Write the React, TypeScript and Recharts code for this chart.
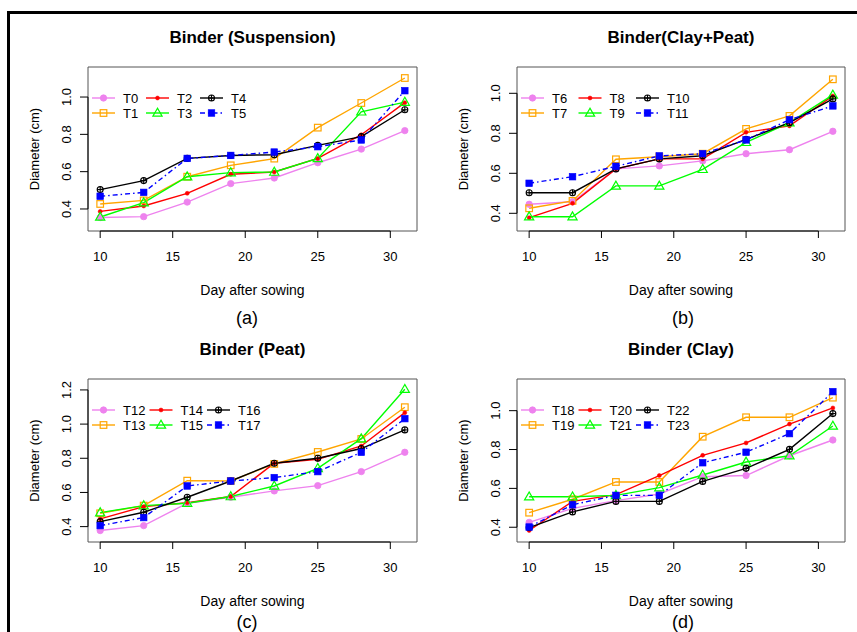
import React from 'react';
import { LineChart, Line, XAxis, YAxis, ReferenceArea } from 'recharts';

const days = [10, 13, 16, 19, 22, 25, 28, 31];
const xTicks = [10, 15, 20, 25, 30];
const xDomain: [number, number] = [9.16, 31.84];

// Panel (a) Binder (Suspension)
const T0 = [0.354, 0.359, 0.437, 0.536, 0.566, 0.648, 0.721, 0.82];
const T1 = [0.427, 0.446, 0.573, 0.634, 0.67, 0.836, 0.968, 1.102];
const T2 = [0.387, 0.416, 0.484, 0.586, 0.598, 0.671, 0.798, 0.97];
const T3 = [0.357, 0.434, 0.573, 0.595, 0.598, 0.671, 0.921, 0.973];
const T4 = [0.504, 0.552, 0.671, 0.687, 0.691, 0.741, 0.788, 0.932];
const T5 = [0.468, 0.489, 0.671, 0.687, 0.705, 0.734, 0.77, 1.034];

// Panel (b) Binder(Clay+Peat)
const T6 = [0.445, 0.458, 0.622, 0.637, 0.662, 0.698, 0.718, 0.81];
const T7 = [0.425, 0.462, 0.67, 0.683, 0.698, 0.822, 0.887, 1.07];
const T8 = [0.378, 0.45, 0.622, 0.672, 0.672, 0.805, 0.837, 0.987];
const T9 = [0.383, 0.383, 0.537, 0.537, 0.62, 0.755, 0.853, 0.992];
const T10 = [0.503, 0.503, 0.622, 0.672, 0.688, 0.77, 0.853, 0.972];
const T11 = [0.55, 0.583, 0.635, 0.687, 0.698, 0.767, 0.868, 0.937];

// Panel (c) Binder (Peat)
const T12 = [0.377, 0.406, 0.537, 0.572, 0.609, 0.64, 0.722, 0.835];
const T13 = [0.478, 0.523, 0.669, 0.667, 0.767, 0.837, 0.913, 1.099];
const T14 = [0.445, 0.517, 0.54, 0.576, 0.771, 0.794, 0.872, 1.067];
const T15 = [0.482, 0.523, 0.537, 0.576, 0.638, 0.741, 0.915, 1.204];
const T16 = [0.429, 0.484, 0.572, 0.667, 0.771, 0.8, 0.857, 0.966];
const T17 = [0.406, 0.453, 0.638, 0.667, 0.687, 0.722, 0.835, 1.032];

// Panel (d) Binder (Clay)
const T18 = [0.425, 0.497, 0.537, 0.571, 0.66, 0.666, 0.768, 0.849];
const T19 = [0.475, 0.544, 0.633, 0.633, 0.866, 0.966, 0.966, 1.067];
const T20 = [0.383, 0.533, 0.568, 0.666, 0.77, 0.834, 0.931, 1.014];
const T21 = [0.557, 0.557, 0.564, 0.604, 0.669, 0.736, 0.768, 0.921];
const T22 = [0.398, 0.479, 0.533, 0.533, 0.636, 0.703, 0.801, 0.985];
const T23 = [0.401, 0.516, 0.564, 0.564, 0.732, 0.786, 0.882, 1.098];

type Shape = 'circle' | 'square' | 'dot' | 'triangle' | 'circleplus' | 'fsquare';
const styles: { color: string; shape: Shape; dash?: string }[] = [
  { color: '#EE82EE', shape: 'circle' },
  { color: '#FFA500', shape: 'square' },
  { color: '#FF0000', shape: 'dot' },
  { color: '#00FF00', shape: 'triangle' },
  { color: '#000000', shape: 'circleplus' },
  { color: '#0000FF', shape: 'fsquare', dash: '5 3 1.5 3' },
];

const FONT = '"Liberation Sans", Arial, Helvetica, sans-serif';

function Marker({ shape, color, cx, cy }: { shape: Shape; color: string; cx: number; cy: number }) {
  switch (shape) {
    case 'circle':
      return <circle cx={cx} cy={cy} r={3.2} fill={color} stroke={color} strokeWidth={0.8} />;
    case 'square':
      return <rect x={cx - 3.3} y={cy - 3.3} width={6.6} height={6.6} fill="none" stroke={color} strokeWidth={1.2} />;
    case 'dot':
      return <circle cx={cx} cy={cy} r={2} fill={color} stroke={color} strokeWidth={0.5} />;
    case 'triangle':
      return (
        <polygon
          points={`${cx},${cy - 4.8} ${cx - 4.6},${cy + 3.2} ${cx + 4.6},${cy + 3.2}`}
          fill="none"
          stroke={color}
          strokeWidth={1.2}
        />
      );
    case 'circleplus':
      return (
        <g>
          <circle cx={cx} cy={cy} r={3} fill="none" stroke={color} strokeWidth={1.1} />
          <line x1={cx - 3} x2={cx + 3} y1={cy} y2={cy} stroke={color} strokeWidth={1.1} />
          <line x1={cx} x2={cx} y1={cy - 3} y2={cy + 3} stroke={color} strokeWidth={1.1} />
        </g>
      );
    case 'fsquare':
    default:
      return <rect x={cx - 3.3} y={cy - 3.3} width={6.6} height={6.6} fill={color} stroke={color} strokeWidth={0.6} />;
  }
}

type PanelDef = {
  title: string;
  label: string;
  names: string[];
  series: number[][];
  boxL: number;
  boxR: number;
  boxT: number;
  boxB: number;
  yDomain: [number, number];
  yTicks: number[];
  legendStep: number;
  dayY: number;
  labelY: number;
  labelX: number;
};

const panels: PanelDef[] = [
  {
    title: 'Binder (Suspension)', label: '(a)', names: ['T0', 'T1', 'T2', 'T3', 'T4', 'T5'],
    series: [T0, T1, T2, T3, T4, T5], boxL: 88, boxR: 417, boxT: 67, boxB: 231,
    yDomain: [0.282, 1.161], yTicks: [0.4, 0.6, 0.8, 1.0], legendStep: 54, dayY: 290, labelY: 318, labelX: 247,
  },
  {
    title: 'Binder(Clay+Peat)', label: '(b)', names: ['T6', 'T7', 'T8', 'T9', 'T10', 'T11'],
    series: [T6, T7, T8, T9, T10, T11], boxL: 517, boxR: 845, boxT: 67, boxB: 231,
    yDomain: [0.3115, 1.1315], yTicks: [0.4, 0.6, 0.8, 1.0], legendStep: 57.5, dayY: 290, labelY: 318, labelX: 683,
  },
  {
    title: 'Binder (Peat)', label: '(c)', names: ['T12', 'T13', 'T14', 'T15', 'T16', 'T17'],
    series: [T12, T13, T14, T15, T16, T17], boxL: 88, boxR: 417, boxT: 379, boxB: 542,
    yDomain: [0.31, 1.264], yTicks: [0.4, 0.6, 0.8, 1.0, 1.2], legendStep: 57.5, dayY: 601, labelY: 622, labelX: 247,
  },
  {
    title: 'Binder (Clay)', label: '(d)', names: ['T18', 'T19', 'T20', 'T21', 'T22', 'T23'],
    series: [T18, T19, T20, T21, T22, T23], boxL: 517, boxR: 845, boxT: 379, boxB: 542,
    yDomain: [0.324, 1.163], yTicks: [0.4, 0.6, 0.8, 1.0], legendStep: 57.5, dayY: 601, labelY: 622, labelX: 683,
  },
];

const Y_AXIS_W = 88;
const RIGHT_M = 13;
const X_AXIS_H = 40;
const BOTTOM_M = 30;

function Panel({ p }: { p: PanelDef }) {
  const left = p.boxL - Y_AXIS_W;
  const top = p.boxT - 67;
  const width = p.boxR - left + RIGHT_M;
  const plotH = p.boxB - p.boxT;
  const height = p.boxB - top + X_AXIS_H + BOTTOM_M;
  const localBottom = p.boxB - top;
  const localLeft = Y_AXIS_W;
  const pxX = (p.boxR - p.boxL) / (xDomain[1] - xDomain[0]);
  const pxY = plotH / (p.yDomain[1] - p.yDomain[0]);
  const data = days.map((d, i) => {
    const row: Record<string, number> = { day: d };
    p.names.forEach((n, k) => {
      row[n] = p.series[k][i];
    });
    return row;
  });
  const lastX = xTicks[xTicks.length - 1];
  const lastY = p.yTicks[p.yTicks.length - 1];

  const xTick = (props: any) => {
    const { x, payload } = props;
    const isLast = payload.value === lastX;
    return (
      <g>
        <line x1={x} x2={x} y1={localBottom} y2={localBottom + 7} stroke="#000" strokeWidth={1} />
        {!isLast && (
          <line x1={x} x2={x + 5 * pxX} y1={localBottom} y2={localBottom} stroke="#000" strokeWidth={1} />
        )}
        <text x={x} y={localBottom + 25} textAnchor="middle" dominantBaseline="central" fontSize={13} fontFamily={FONT} fill="#000">
          {payload.value}
        </text>
      </g>
    );
  };
  const yTick = (props: any) => {
    const { y, payload } = props;
    const isLast = Math.abs(payload.value - lastY) < 1e-9;
    const tx = localLeft - 21;
    return (
      <g>
        <line x1={localLeft - 8} x2={localLeft} y1={y} y2={y} stroke="#000" strokeWidth={1} />
        {!isLast && (
          <line x1={localLeft} x2={localLeft} y1={y} y2={y - 0.2 * pxY} stroke="#000" strokeWidth={1} />
        )}
        <text
          x={tx}
          y={y}
          textAnchor="middle"
          dominantBaseline="central"
          fontSize={13}
          fontFamily={FONT}
          fill="#000"
          transform={`rotate(-90, ${tx}, ${y})`}
        >
          {Number(payload.value).toFixed(1)}
        </text>
      </g>
    );
  };

  return (
    <div style={{ position: 'absolute', left, top, width, height }}>
      <LineChart
        width={width}
        height={height}
        data={data}
        margin={{ top: p.boxT - top, right: RIGHT_M, bottom: BOTTOM_M, left: 0 }}
      >
        <XAxis
          dataKey="day"
          type="number"
          domain={xDomain}
          ticks={xTicks}
          allowDataOverflow
          axisLine={false}
          tickLine={false}
          tick={xTick}
          height={X_AXIS_H}
          interval={0}
        />
        <YAxis
          type="number"
          domain={p.yDomain}
          ticks={p.yTicks}
          allowDataOverflow
          axisLine={false}
          tickLine={false}
          tick={yTick}
          width={Y_AXIS_W}
          interval={0}
        />
        <ReferenceArea
          x1={xDomain[0]}
          x2={xDomain[1]}
          y1={p.yDomain[0]}
          y2={p.yDomain[1]}
          fill="none"
          fillOpacity={0}
          stroke="#555"
          strokeWidth={1}
          ifOverflow="visible"
        />
        {p.names.map((n, k) => {
          const st = styles[k];
          return (
            <Line
              key={n}
              dataKey={n}
              type="linear"
              stroke={st.color}
              strokeWidth={1.4}
              strokeDasharray={st.dash}
              isAnimationActive={false}
              activeDot={false}
              dot={(dp: any) => (
                <Marker key={`${n}-${dp.index}`} shape={st.shape} color={st.color} cx={dp.cx} cy={dp.cy} />
              )}
            />
          );
        })}
      </LineChart>
    </div>
  );
}

function Overlay() {
  return (
    <svg width={857} height={632} style={{ position: 'absolute', left: 0, top: 0, pointerEvents: 'none' }}>
      {panels.map((p) => {
        const cx = (p.boxL + p.boxR) / 2;
        const cy = (p.boxT + p.boxB) / 2;
        const yl = p.boxL - 54;
        return (
          <g key={p.label} fontFamily={FONT} fill="#000">
            <text x={cx} y={p.boxT - 30} textAnchor="middle" dominantBaseline="central" fontSize={17} fontWeight="bold">
              {p.title}
            </text>
            <text x={cx} y={p.dayY} textAnchor="middle" dominantBaseline="central" fontSize={14}>
              Day after sowing
            </text>
            <text x={p.labelX} y={p.labelY} textAnchor="middle" dominantBaseline="central" fontSize={18}>
              {p.label}
            </text>
            <text
              x={yl}
              y={cy}
              textAnchor="middle"
              dominantBaseline="central"
              fontSize={13}
              transform={`rotate(-90, ${yl}, ${cy})`}
            >
              Diameter (cm)
            </text>
            {p.names.map((n, k) => {
              const col = Math.floor(k / 2);
              const row = k % 2;
              const ly = p.boxT + 31 + row * 15;
              const x1 = p.boxL + 4 + col * p.legendStep;
              const x2 = x1 + 23;
              const st = styles[k];
              return (
                <g key={n}>
                  <line x1={x1} x2={x2} y1={ly} y2={ly} stroke={st.color} strokeWidth={1.4} strokeDasharray={st.dash} />
                  <Marker shape={st.shape} color={st.color} cx={(x1 + x2) / 2} cy={ly} />
                  <text x={x1 + 31} y={ly} dominantBaseline="central" fontSize={13}>
                    {n}
                  </text>
                </g>
              );
            })}
          </g>
        );
      })}
    </svg>
  );
}

export default function App() {
  return (
    <div style={{ position: 'absolute', left: 0, top: 0, width: 857, height: 632, overflow: 'hidden', background: '#fff' }}>
      <div
        style={{
          position: 'absolute',
          left: 7,
          top: 11,
          width: 900,
          height: 700,
          borderLeft: '3px solid #000',
          borderTop: '3px solid #000',
        }}
      />
      {panels.map((p) => (
        <Panel key={p.label} p={p} />
      ))}
      <Overlay />
    </div>
  );
}
